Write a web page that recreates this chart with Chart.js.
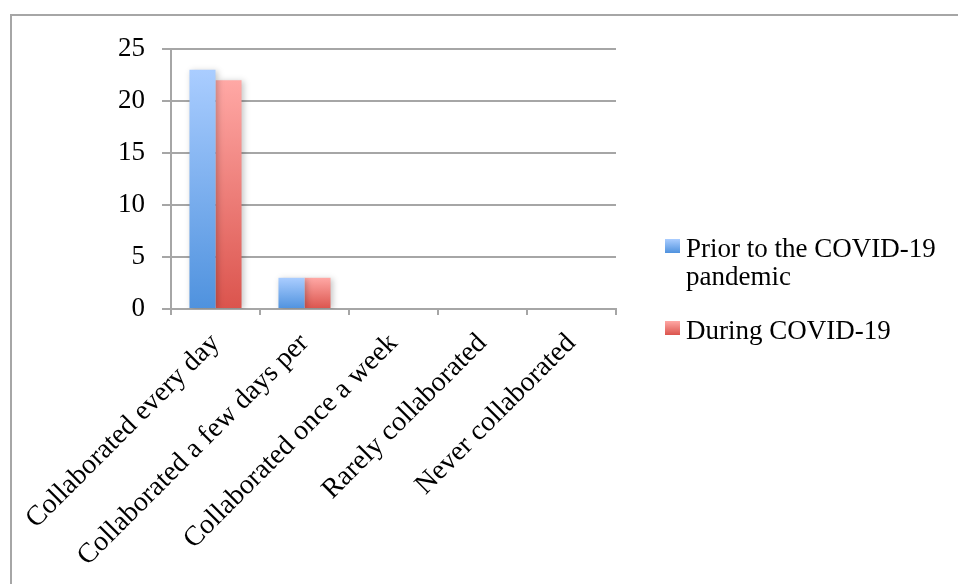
<!DOCTYPE html>
<html>
<head>
<meta charset="utf-8">
<script src="https://cdn.jsdelivr.net/npm/chart.js@4"></script>
<style>
  html, body { margin: 0; padding: 0; background: #fff; }
  #wrap { position: relative; width: 958px; height: 584px; overflow: hidden; }
  #frame { position: absolute; left: 10px; top: 14px; right: -4px; bottom: -4px;
           border-top: 2px solid #a6a6a6; border-left: 2px solid #a6a6a6; }
  canvas { position: absolute; left: 0; top: 0; }
</style>
</head>
<body>
<div id="wrap">
  <div id="frame"></div>
  <canvas id="chart" width="958" height="584"></canvas>
</div>
<script>
// Categories and series
const categories = [
    'Collaborated every day',
    'Collaborated a few days per',
    'Collaborated once a week',
    'Rarely collaborated',
    'Never collaborated'
];
const priorValues = [23, 3, 0, 0, 0];
const duringValues = [22, 3, 0, 0, 0];
const seriesNames = [['Prior to the COVID-19', 'pandemic'], ['During COVID-19']];
const yTicks = [0, 5, 10, 15, 20, 25];

const FONT = '"Liberation Serif", "DejaVu Serif", serif';

// top / bottom colours of each bar gradient
const shades = [
    ['#aacdff', '#4f92de'],
    ['#ffa8a5', '#db544d']
];

// vertical gradient per bar, light at the top
function barFill(context) {
    const pair = shades[context.datasetIndex];
    const chart = context.chart;
    if (!chart.chartArea || context.type !== 'data') return pair[1];
    const y = chart.scales.y;
    const top = y.getPixelForValue(context.raw);
    const bottom = y.getPixelForValue(0);
    if (bottom - top < 1) return pair[1];
    const g = chart.ctx.createLinearGradient(0, top, 0, bottom);
    g.addColorStop(0, pair[0]);
    g.addColorStop(1, pair[1]);
    return g;
}

// soft drop shadow behind the bars
const barShadow = {
    id: 'barShadow',
    beforeDatasetDraw(chart) {
        const ctx = chart.ctx;
        ctx.save();
        ctx.shadowColor = 'rgba(0,0,0,0.22)';
        ctx.shadowBlur = 6;
        ctx.shadowOffsetX = 2;
        ctx.shadowOffsetY = 1;
    },
    afterDatasetDraw(chart) {
        chart.ctx.restore();
    }
};

// legend on the right, with wrapped first entry
const sideLegend = {
    id: 'sideLegend',
    afterDraw(chart) {
        const ctx = chart.ctx;
        const area = chart.chartArea;
        const x = area.right + 49;
        let y = area.top + 190;
        const lineH = 28;
        ctx.save();
        ctx.font = '27px ' + FONT;
        ctx.textBaseline = 'alphabetic';
        seriesNames.forEach((lines, i) => {
            const g = ctx.createLinearGradient(0, y, 0, y + 14);
            g.addColorStop(0, shades[i][0]);
            g.addColorStop(1, shades[i][1]);
            ctx.fillStyle = g;
            ctx.fillRect(x, y, 15, 14);
            ctx.fillStyle = '#000';
            lines.forEach((t, j) => {
                ctx.fillText(t, x + 21, y + 18 + j * lineH);
            });
            y += lines.length * lineH + 26;
        });
        ctx.restore();
    }
};

new Chart(document.getElementById('chart'), {
    type: 'bar',
    data: {
        labels: categories,
        datasets: [
            { label: seriesNames[0].join(' '), data: priorValues, backgroundColor: barFill },
            { label: seriesNames[1].join(' '), data: duringValues, backgroundColor: barFill }
        ]
    },
    options: {
        responsive: false,
        animation: false,
        layout: { padding: { left: 0, top: 49, right: 342, bottom: 0 } },
        datasets: { bar: { categoryPercentage: 0.585, barPercentage: 1, borderWidth: 0 } },
        plugins: {
            legend: { display: false },
            tooltip: { enabled: false }
        },
        scales: {
            x: {
                grid: {
                    offset: true,
                    drawOnChartArea: false,
                    drawTicks: true,
                    tickLength: 6,
                    color: '#a6a6a6',
                    lineWidth: 2
                },
                border: { color: '#a6a6a6', width: 2 },
                ticks: {
                    font: { family: FONT, size: 28 },
                    color: '#000',
                    minRotation: 45,
                    maxRotation: 45,
                    autoSkip: false,
                    padding: 12
                },
                afterFit(scale) { scale.height = 275; }
            },
            y: {
                min: 0,
                max: 25,
                afterBuildTicks(scale) { scale.ticks = yTicks.map(v => ({ value: v })); },
                grid: { color: '#a6a6a6', lineWidth: 2, tickLength: 9 },
                border: { color: '#a6a6a6', width: 2 },
                ticks: {
                    font: { family: FONT, size: 27 },
                    color: '#000',
                    padding: 17
                },
                afterFit(scale) { scale.width = 171; }
            }
        }
    },
    plugins: [barShadow, sideLegend]
});
</script>
</body>
</html>
